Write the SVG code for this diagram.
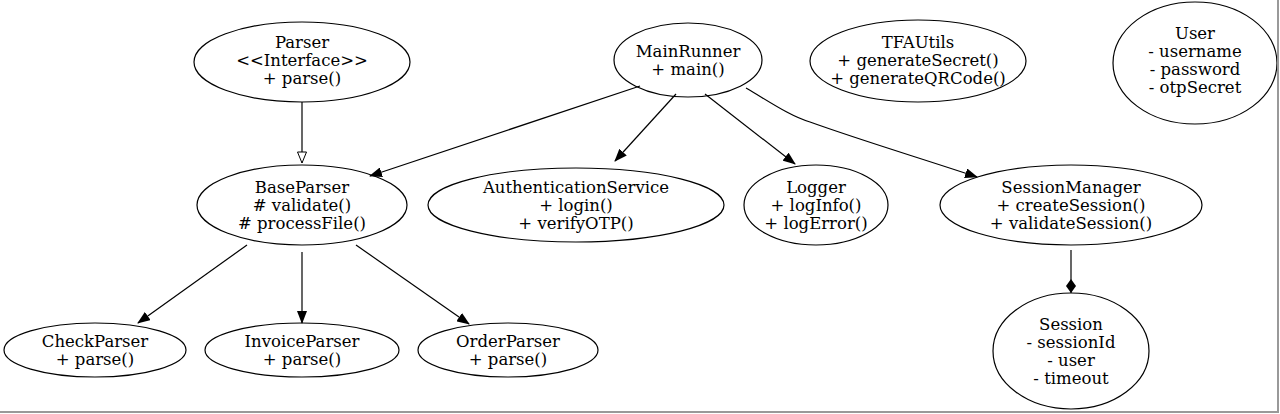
<svg xmlns="http://www.w3.org/2000/svg" width="1280" height="414" viewBox="0 0 1280 414">
<style>
.n ellipse{fill:none;stroke:#000;stroke-width:1.2}
.n text{font-family:"DejaVu Serif",serif;font-size:16.5px;text-anchor:middle;fill:#000}
.e{fill:none;stroke:#000;stroke-width:1.2}
</style>
<defs>
<marker id="arr" markerWidth="13" markerHeight="10" refX="12" refY="5" orient="auto" markerUnits="userSpaceOnUse"><path d="M0,0 L13,5 L0,10 Z" fill="#000"/></marker>
<marker id="tri" markerWidth="13" markerHeight="11" refX="12" refY="5.5" orient="auto" markerUnits="userSpaceOnUse"><path d="M1,1 L12,5.5 L1,10 Z" fill="#fff" stroke="#000" stroke-width="1"/></marker>
<marker id="dia" markerWidth="15" markerHeight="10" refX="14" refY="5" orient="auto" markerUnits="userSpaceOnUse"><path d="M0,5 L7,0 L14,5 L7,10 Z" fill="#000"/></marker>
</defs>
<rect width="1280" height="414" fill="#fff"/>
<g id="connectors">
<path class="e" d="M302,102 L302,163" marker-end="url(#tri)"/>
<path class="e" d="M640,86 L370,176" marker-end="url(#arr)"/>
<path class="e" d="M676,94 L615,161" marker-end="url(#arr)"/>
<path class="e" d="M705,94 L795,164" marker-end="url(#arr)"/>
<path class="e" d="M746,88 C770,102 790,116 810,122 C860,140 920,158 977,177" marker-end="url(#arr)"/>
<path class="e" d="M247,245 L138,323" marker-end="url(#arr)"/>
<path class="e" d="M302,252 L302,323" marker-end="url(#arr)"/>
<path class="e" d="M356,245 L469,324" marker-end="url(#arr)"/>
<path class="e" d="M1071,250 L1071,293" marker-end="url(#dia)"/>
</g>
<g id="Parser" class="n"><ellipse cx="302" cy="62" rx="108" ry="40"/><text x="302" y="48">Parser</text><text x="302" y="66">&lt;&lt;Interface&gt;&gt;</text><text x="302" y="84">+ parse()</text></g>
<g id="MainRunner" class="n"><ellipse cx="688" cy="60" rx="74" ry="37"/><text x="688" y="57">MainRunner</text><text x="688" y="75">+ main()</text></g>
<g id="TFAUtils" class="n"><ellipse cx="918" cy="61" rx="108" ry="41"/><text x="918" y="48">TFAUtils</text><text x="918" y="66">+ generateSecret()</text><text x="918" y="84">+ generateQRCode()</text></g>
<g id="User" class="n"><ellipse cx="1195" cy="63" rx="82" ry="61"/><text x="1195" y="39">User</text><text x="1195" y="57">- username</text><text x="1195" y="75">- password</text><text x="1195" y="93">- otpSecret</text></g>
<g id="BaseParser" class="n"><ellipse cx="302" cy="205" rx="105" ry="40"/><text x="302" y="193">BaseParser</text><text x="302" y="211"># validate()</text><text x="302" y="229"># processFile()</text></g>
<g id="AuthenticationService" class="n"><ellipse cx="576" cy="205" rx="148" ry="37"/><text x="576" y="193">AuthenticationService</text><text x="576" y="211">+ login()</text><text x="576" y="229">+ verifyOTP()</text></g>
<g id="Logger" class="n"><ellipse cx="816" cy="205" rx="72" ry="40"/><text x="816" y="193">Logger</text><text x="816" y="211">+ logInfo()</text><text x="816" y="229">+ logError()</text></g>
<g id="SessionManager" class="n"><ellipse cx="1071" cy="205" rx="131" ry="40"/><text x="1071" y="193">SessionManager</text><text x="1071" y="211">+ createSession()</text><text x="1071" y="229">+ validateSession()</text></g>
<g id="CheckParser" class="n"><ellipse cx="95" cy="350" rx="91" ry="27"/><text x="95" y="347">CheckParser</text><text x="95" y="365">+ parse()</text></g>
<g id="InvoiceParser" class="n"><ellipse cx="302" cy="350" rx="97" ry="27"/><text x="302" y="347">InvoiceParser</text><text x="302" y="365">+ parse()</text></g>
<g id="OrderParser" class="n"><ellipse cx="508" cy="350" rx="90" ry="27"/><text x="508" y="347">OrderParser</text><text x="508" y="365">+ parse()</text></g>
<g id="Session" class="n"><ellipse cx="1071" cy="351" rx="78" ry="58"/><text x="1071" y="330">Session</text><text x="1071" y="348">- sessionId</text><text x="1071" y="366">- user</text><text x="1071" y="384">- timeout</text></g>
<path d="M0,412 L1278,412 L1278,0" fill="none" stroke="#999" stroke-width="2"/>
</svg>
